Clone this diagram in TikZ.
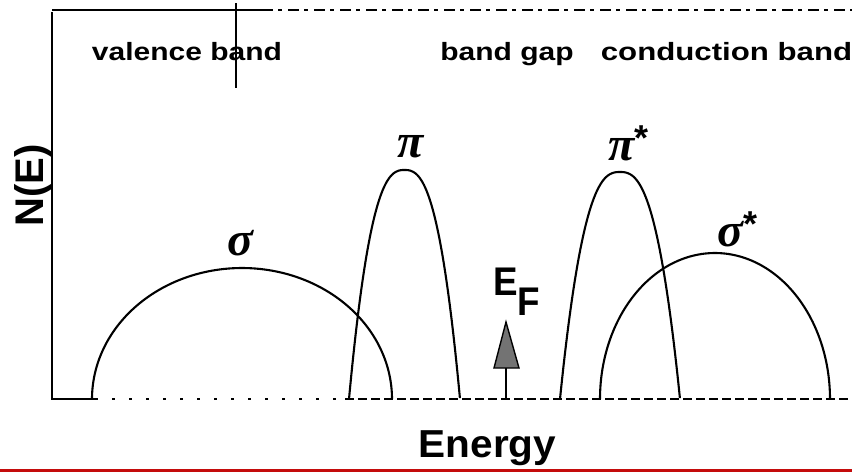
\documentclass[tikz,border=0pt]{standalone}
\usepackage{fontspec}
\setmainfont{Liberation Sans}
\newfontfamily\grk{Liberation Serif}
\definecolor{redline}{RGB}{196,12,12}
\begin{document}
\begin{tikzpicture}[x=1pt,y=-1pt,
  curve/.style={line width=2.1pt, black},
  axisline/.style={line width=2.2pt, black},
  scanline/.style={line width=1.2pt, black},
  lbl/.style={font=\fontsize{25}{30}\selectfont\bfseries, anchor=base, inner sep=0pt, xscale=1.2},
  greek/.style={inner sep=0pt, font=\fontsize{48}{48}\selectfont\grk\bfseries\itshape}]
\useasboundingbox (0,0) rectangle (852,472);
\fill[white] (0,0) rectangle (852,472);
% frame / axes
\draw[axisline] (52,12) -- (52,399) -- (95,399);
\draw[scanline, dash pattern=on 3pt off 14pt] (95,399) -- (345,399);
\draw[scanline, dash pattern=on 9pt off 4pt] (345,399) -- (852,399);
\draw[line width=1.6pt] (52,10) -- (262,10);
\draw[scanline, dash pattern=on 11pt off 5pt on 4pt off 6pt] (262,10) -- (852,10);
\draw[line width=1.4pt] (236,3) -- (236,88);
% bands
\draw[curve] plot[domain=0:180, samples=120] ({242+150*cos(\x)},{399-131*sin(\x)});
\draw[curve] plot[domain=0:180, samples=120] ({715+115*cos(\x)},{399-146*sin(\x)});
\draw[curve] plot[domain=-1:1, samples=100] ({404.5+55.5*\x},{399-229*(1-pow(abs(\x),2.6))});
\draw[curve] plot[domain=-1:1, samples=100] ({620+60*\x},{399-227*(1-pow(abs(\x),2.6))});
% Fermi level arrow
\coordinate (efb) at (506,399);
\coordinate (efh) at (506,368);
\coordinate (eft) at (506,322);
\draw[line width=2.2pt] (efb) -- (efh);
\filldraw[fill=black!55, draw=black, line width=1.4pt] ([xshift=-12pt]efh) -- ([xshift=13pt]efh) -- (eft) -- cycle;
% labels
\node[lbl] (vb) at (187,60) {valence band};
\node[lbl] (bg) at (507,60) {band gap};
\node[lbl, xscale=1.04] (cb) at (726.5,60) {conduction band};
\node[font=\fontsize{39}{40}\selectfont\bfseries, anchor=base, inner sep=0pt, xscale=1.04] (en) at (487.5,457) {Energy};
\node[font=\fontsize{40}{40}\selectfont\bfseries, rotate=90, anchor=base, inner sep=0pt] (ne) at (43,185.5) {N(E)};
\node[font=\fontsize{40}{40}\selectfont\bfseries, anchor=base west, inner sep=0pt, xscale=0.92] (ef) at (493,295) {E\raisebox{-0.5em}{F}};
\node[greek] (sig) at (240,243) {σ};
\node[greek] (pi) at (411,147) {π};
\node[greek, anchor=base west] (pis) at (608,160) {π\raisebox{0.2em}{\fontsize{36}{36}\selectfont\rmfamily\bfseries\upshape *}};
\node[greek, anchor=base west] (sigs) at (717,246) {σ\raisebox{0.2em}{\fontsize{36}{36}\selectfont\rmfamily\bfseries\upshape *}};
% bottom red rule
\fill[redline] (0,469) rectangle (852,472);
\end{tikzpicture}
\end{document}
